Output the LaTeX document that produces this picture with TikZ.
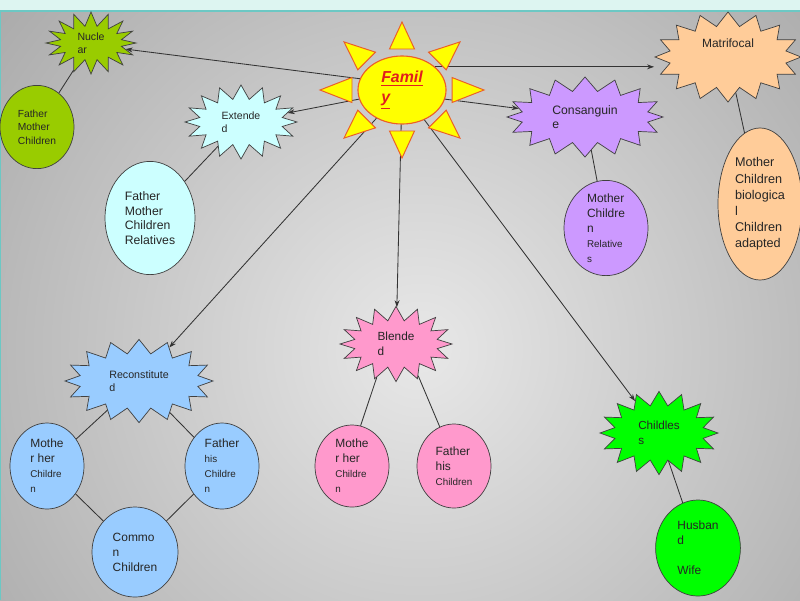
\documentclass[tikz,border=0pt]{standalone}
\usepackage{fontspec}
\setmainfont{Liberation Sans}
\usetikzlibrary{shapes.geometric,shapes.symbols,calc,arrows.meta}

\definecolor{nucgreen}{HTML}{99CC00}
\definecolor{extcyan}{HTML}{CCFFFF}
\definecolor{conpurple}{HTML}{CC99FF}
\definecolor{matpeach}{HTML}{FFCC99}
\definecolor{blepink}{HTML}{FF99CC}
\definecolor{recblue}{HTML}{99CCFF}
\definecolor{chlgreen}{HTML}{00FF00}
\definecolor{sunyellow}{HTML}{FFFF00}
\definecolor{sunedge}{RGB}{235,95,40}
\definecolor{famred}{RGB}{225,30,30}
\definecolor{topband}{HTML}{DDF5F1}
\definecolor{bandline}{HTML}{6CC8C4}
\definecolor{bglight}{HTML}{E8E8E8}
\definecolor{bgdark}{HTML}{6A6A6A}

\newcommand\smtxt{\fontsize{7}{10.6}\selectfont}

\tikzset{
  burst/.style={starburst, starburst points=16, starburst point height=0.35cm, random starburst=0,
    draw=black!75, line width=0.5pt, inner sep=-6pt, align=left, text=black!85},
  blob/.style={ellipse, draw=black!75, line width=0.5pt, inner sep=-6pt, align=left, text=black!85,
    font=\fontsize{8.5}{10.6}\selectfont},
  link/.style={draw=black!80, line width=0.6pt},
  arr/.style={->, draw=black!80, line width=0.6pt},
  ray/.style={fill=sunyellow, draw=sunedge, line width=0.7pt},
}

\begin{document}
\begin{tikzpicture}[x=0.025cm, y=-0.025cm, >={Stealth[length=5pt,width=3.5pt]}]
\useasboundingbox (0,0) rectangle (800,600);
% frame and shaded background
\fill[topband] (0,0) rectangle (800,11);
\begin{scope}
  \clip (0,11) rectangle (805,605);
  \shade[inner color=bglight, outer color=bgdark] (-700,-770) rectangle (1540,1470);
\end{scope}
\draw[bandline, line width=1pt] (0,11) -- (800,11);
\draw[bandline, line width=1pt] (0.5,11) -- (0.5,600);

% centre
\node[ellipse, fill=sunyellow, draw=sunedge, line width=0.8pt, minimum width=2.2cm, minimum height=1.7cm,
  inner sep=0pt, align=left, text=famred, font=\fontsize{11.3}{14}\selectfont\bfseries\itshape] (fam) at (402,90)
  {\underline{Famil}\\\underline{y}};

% family types
\node[burst, fill=nucgreen, minimum width=2.25cm, minimum height=1.55cm, font=\fontsize{7.5}{9.4}\selectfont] (nuc) at (91,43) {Nucle\\ar};
\node[blob, fill=nucgreen, minimum width=1.85cm, minimum height=2.08cm, font=\fontsize{7.3}{9.5}\selectfont] (nucm) at (37,127) {Father\\Mother\\Children};

\node[burst, fill=extcyan, minimum width=2.8cm, minimum height=1.85cm, font=\fontsize{7.5}{9.4}\selectfont] (ext) at (241,122) {Extende\\d};
\node[blob, fill=extcyan, minimum width=2.25cm, minimum height=2.83cm, font=\fontsize{8.7}{10.3}\selectfont] (extm) at (150,218) {Father\\Mother\\Children\\Relatives};

\node[burst, fill=conpurple, minimum width=3.9cm, minimum height=2cm, font=\fontsize{8.7}{10}\selectfont] (con) at (585,117) {Consanguin\\e};
\node[blob, fill=conpurple, minimum width=2.1cm, minimum height=2.38cm] (conm) at (606,228) {Mother\\Childre\\n\\{\smtxt Relative}\\{\smtxt s}};

\node[burst, fill=matpeach, minimum width=3.65cm, minimum height=2.25cm, font=\fontsize{8.5}{10}\selectfont] (mat) at (728,57) {\raisebox{10pt}[\height][\depth]{Matrifocal}};
\node[blob, fill=matpeach, minimum width=2.1cm, minimum height=3.8cm, font=\fontsize{9}{11.5}\selectfont] (matm) at (760,204) {Mother\\Children\\biologica\\l\\Children\\adapted};

\node[burst, fill=recblue, minimum width=3.7cm, minimum height=2.08cm, font=\fontsize{7.6}{9.4}\selectfont] (rec) at (139,381) {Reconstitute\\d};
\node[blob, fill=recblue, minimum width=1.85cm, minimum height=2.15cm] (recm) at (47,466) {Mothe\\r her\\{\smtxt Childre}\\{\smtxt n}};
\node[blob, fill=recblue, minimum width=1.85cm, minimum height=2.15cm] (recf) at (222,466) {Father\\{\smtxt his}\\{\smtxt Childre}\\{\smtxt n}};
\node[blob, fill=recblue, minimum width=2.15cm, minimum height=2.25cm] (recc) at (135,552) {Commo\\n\\Children};

\node[burst, fill=blepink, minimum width=2.8cm, minimum height=1.88cm, font=\fontsize{8.4}{10.6}\selectfont] (ble) at (396,344) {Blende\\d};
\node[blob, fill=blepink, minimum width=1.85cm, minimum height=2.05cm] (blem) at (352,466) {Mothe\\r her\\{\smtxt Childre}\\{\smtxt n}};
\node[blob, fill=blepink, minimum width=1.85cm, minimum height=2.1cm] (blef) at (454,466) {Father\\his\\{\smtxt Children}};

\node[burst, fill=chlgreen, minimum width=2.95cm, minimum height=2.08cm, font=\fontsize{8.3}{10.6}\selectfont] (chl) at (659,433) {Childles\\s};
\node[blob, fill=chlgreen, minimum width=2.12cm, minimum height=2.4cm] (chlm) at (698,548) {Husban\\d\\~\\Wife};

% members
\draw[link] (nuc) -- (nucm);
\draw[link] (ext) -- (extm);
\draw[link] (con) -- (conm);
\draw[link] (mat) -- (matm);
\draw[link] (rec) -- (recm);
\draw[link] (rec) -- (recf);
\draw[link] (recm) -- (recc);
\draw[link] (recf) -- (recc);
\draw[link] (ble.-120) -- (blem.78);
\draw[link] (ble.-55) -- (blef.110);
\draw[link] (chl) -- (chlm);

% arrows out of the centre
\draw[arr] (fam.165) -- (nuc.-10);
\draw[arr] (fam.35) -- (fam.35 -| mat.west);
\draw[arr] (fam.192) -- (ext);
\draw[arr] (fam.-12) -- (con);
\draw[arr] (fam) -- (rec);
\draw[arr] (fam) -- (ble);
\draw[arr] (fam) -- (chl);

% sun rays
\foreach \a in {0,45,...,315}
  \filldraw[ray] ($(fam.center)+(\a:50 and 41)+(\a+90:12.5)$) -- ($(fam.center)+(\a:82 and 68)$)
    -- ($(fam.center)+(\a:50 and 41)+(\a-90:12.5)$) -- cycle;
\end{tikzpicture}
\end{document}
